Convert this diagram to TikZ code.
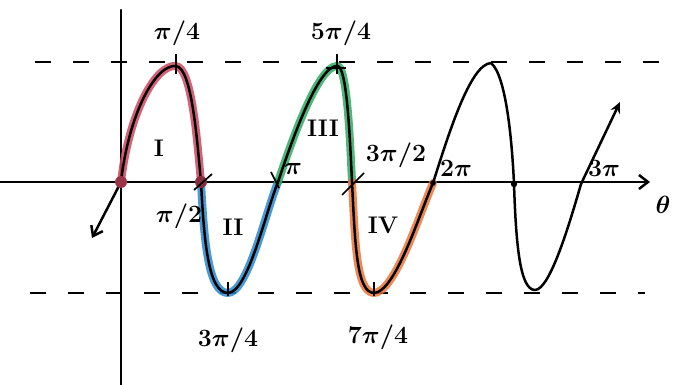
\documentclass[tikz,border=0pt]{standalone}
\usetikzlibrary{arrows.meta}
\definecolor{cred}{RGB}{205,70,95}
\definecolor{cblue}{RGB}{40,135,205}
\definecolor{cgreen}{RGB}{45,170,95}
\definecolor{corange}{RGB}{235,115,55}
\begin{document}
\begin{tikzpicture}[x=1pt,y=-1pt,
  ink/.style={line width=2.5pt,black,line cap=round,line join=round},
  glow/.style={line width=8pt,line cap=round,line join=round,opacity=0.85},
  dashline/.style={line width=2pt,dash pattern=on 16pt off 22pt},
  lbl/.style={font=\fontsize{23}{26}\selectfont\boldmath,inner sep=1pt},
  roman/.style={font=\fontsize{24}{28}\selectfont\bfseries,inner sep=1pt},
  tick/.style={line width=1.7pt}]
\useasboundingbox (0,0) rectangle (674,385);
% key points
\coordinate (O) at (121,182);
\coordinate (P1) at (176,66);
\coordinate (Z1) at (201,182);
\coordinate (T1) at (228,293);
\coordinate (Z2) at (278,182);
\coordinate (P2) at (337,66);
\coordinate (Z3) at (352,182);
\coordinate (T2) at (374,293);
\coordinate (Z4) at (433,183);
\coordinate (P3) at (491,63);
\coordinate (Z5) at (514,184);
\coordinate (T3) at (535,290);
\coordinate (Z6) at (581,184);
\coordinate (E) at (620,102);
\coordinate (S) at (92,238);
% dashed lines
\coordinate (DTl) at (35,62); \coordinate (DTr) at (674,62);
\coordinate (DBl) at (30,293); \coordinate (DBr) at (645,293);
\draw[dashline] (DTl) -- (DTr);
\draw[dashline] (DBl) -- (DBr);
% axes
\coordinate (XL) at (0,182); \coordinate (XR) at (650,182);
\coordinate (YT) at (121,10); \coordinate (YB) at (121,385);
\draw[ink,-{Straight Barb[length=9pt,width=14pt]}] (XL) -- (XR);
\draw[ink] (YT) -- (YB);
% coloured highlights
\draw[glow,cred] (O) .. controls (129,112) and (156,64) .. (P1)
  .. controls (192,68) and (197,140) .. (Z1);
\draw[glow,cblue] (Z1) .. controls (204,240) and (208,293) .. (T1)
  .. controls (248,292) and (265,214) .. (Z2);
\draw[glow,cgreen] (Z2) .. controls (292,140) and (318,66) .. (P2)
  .. controls (347,64) and (350,140) .. (Z3);
\draw[glow,corange] (Z3) .. controls (355,240) and (356,293) .. (T2)
  .. controls (395,292) and (418,218) .. (Z4);
% black curve
\draw[ink] (O) .. controls (129,112) and (156,64) .. (P1)
  .. controls (192,68) and (197,140) .. (Z1)
  .. controls (204,240) and (208,293) .. (T1)
  .. controls (248,292) and (265,214) .. (Z2)
  .. controls (292,140) and (318,66) .. (P2)
  .. controls (347,64) and (350,140) .. (Z3)
  .. controls (355,240) and (356,293) .. (T2)
  .. controls (395,292) and (418,218) .. (Z4)
  .. controls (448,136) and (470,64) .. (P3)
  .. controls (506,75) and (512,140) .. (Z5)
  .. controls (516,245) and (520,290) .. (T3)
  .. controls (550,290) and (570,222) .. (Z6);
\draw[ink,-{Stealth[length=11pt,width=10pt]}] (Z6) -- (E);
\draw[ink,-{Straight Barb[length=9pt,width=13pt]}] (O) -- (S);
% dots
\fill[cred!75!black] (O) circle (6pt);
\fill[cred!65!black] (Z1) circle (6pt);
\fill (Z5) circle (3.2pt);
\fill (Z4) circle (2.8pt);
% ticks
\draw[tick] (176,54) -- (176,74);
\draw[tick] (337,54) -- (337,74);
\draw[tick] (326,68) -- (346,68);
\draw[tick] (228,282) -- (228,296);
\draw[tick] (374,282) -- (374,296);
\draw[tick] (194,190) -- (212,174);
\draw[tick] (342,195) -- (364,173);
\draw[tick] (271,172) -- (279,188);
% labels
\node[lbl] (l1) at (177,33) {$\pi/4$};
\node[lbl] (l2) at (341,33) {$5\pi/4$};
\node[lbl] (l3) at (179,216) {$\pi/2$};
\node[lbl] (l4) at (293,169) {$\pi$};
\node[lbl] (l5) at (396,155) {$3\pi/2$};
\node[lbl] (l6) at (456,168) {$2\pi$};
\node[lbl] (l7) at (604,168) {$3\pi$};
\node[lbl] (l8) at (228,340) {$3\pi/4$};
\node[lbl] (l9) at (378,337) {$7\pi/4$};
\node[lbl] (l10) at (663,205) {$\theta$};
\node[roman] (r1) at (159,148) {I};
\node[roman] (r2) at (233,227) {II};
\node[roman] (r3) at (323,128) {III};
\node[roman] (r4) at (383,225) {IV};
\end{tikzpicture}
\end{document}
